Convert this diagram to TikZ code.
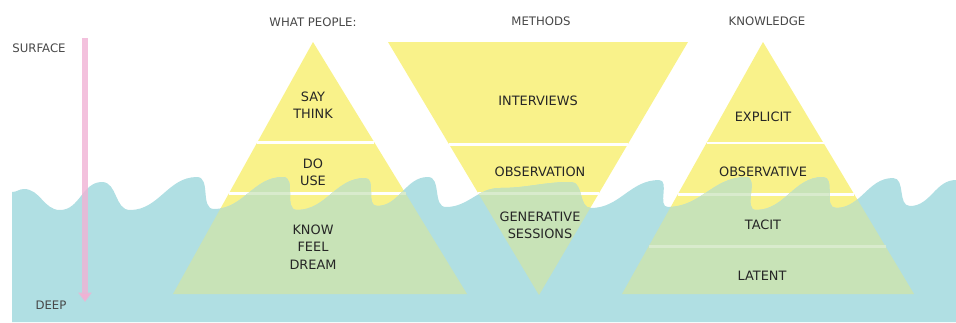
\documentclass[tikz,border=0pt]{standalone}
\usepackage{fontspec}
\setmainfont{DejaVu Sans}
\usepackage{xcolor}
\usepackage{tikz}
\usetikzlibrary{arrows.meta}
\definecolor{sand}{HTML}{F9F28A}
\definecolor{sea}{HTML}{B0DFE3}
\definecolor{reef}{HTML}{C8E3B7}
\definecolor{depth}{HTML}{F0B2D4}
\definecolor{ink}{HTML}{262626}
\tikzstyle{dry} = [fill=sand]
\tikzstyle{wet} = [fill=reef]
\tikzstyle{water} = [fill=sea]
\tikzstyle{gap} = [draw=white, line width=2.5pt]
\tikzstyle{wetgap} = [draw=white!30!reef, line width=2.5pt]
\tikzstyle{heading} = [text=ink!85, font=\fontsize{10}{12}\selectfont]
\tikzstyle{side} = [text=ink!85, font=\fontsize{10}{12}\selectfont]
\tikzstyle{layer} = [text=ink, font=\fontsize{11}{14.7}\selectfont, align=center]
\tikzstyle{arrow} = [line width=5.5pt, draw=depth, draw opacity=0.8, -{Triangle[width=11pt,length=8pt]}]

\begin{document}
\begin{tikzpicture}[x=0.03cm, y=-0.03cm]
\useasboundingbox (0,0) rectangle (956,322);

\path[save path=\seapath, out=0, in=180] (12,322) -- (12,192) to (24,189) to (60,210)
  to (102,182) to (130,210) to (197,177) to (214,209) to (283,177) to (297,210)
  to (365,178) to (377,206) to (428,177) to (446,207) to (500,188) to (571,182)
  to (591,208) to (659,180) to (668,207) to (746,177) to (756,210) to (823,177)
  to (836,208) to (893,178) to (910,206) to (956,180) -- (956,322) -- cycle;

\fill[dry] (313,42) -- (467,294) -- (173,294) -- cycle;
\fill[dry] (388,42) -- (688,42) -- (539,295) -- cycle;
\fill[dry] (763,42) -- (914,294) -- (622,294) -- cycle;

\draw[gap] (257.2,142.5) -- (374.4,142.5);
\draw[gap] (228.8,193.5) -- (405.6,193.5);
\draw[gap] (449.2,144.5) -- (627.6,144.5);
\draw[gap] (478.4,193.5) -- (598.8,193.5);
\draw[gap] (706.5,143) -- (823.5,143);
\draw[gap] (677.7,194.5) -- (854.4,194.5);

\fill[water, use path=\seapath];

\begin{scope}
\path[clip, use path=\seapath];
\fill[wet] (313,42) -- (467,294) -- (173,294) -- cycle;
\fill[wet] (388,42) -- (688,42) -- (539,295) -- cycle;
\fill[wet] (763,42) -- (914,294) -- (622,294) -- cycle;
\draw[wetgap] (228.8,193.5) -- (405.6,193.5);
\draw[wetgap] (478.4,193.5) -- (598.8,193.5);
\draw[wetgap] (677.7,194.5) -- (854.4,194.5);
\draw[wetgap] (648.6,246.5) -- (885.5,246.5);
\end{scope}

\node (people) [heading] at (313,22) {WHAT PEOPLE:};
\node (methods) [heading] at (541,21) {METHODS};
\node (knowledge) [heading] at (767,21) {KNOWLEDGE};

\node (say) [layer] at (313,105.5) {SAY\\THINK};
\node (do) [layer] at (313,172) {DO\\USE};
\node (know) [layer] at (313,247) {KNOW\\FEEL\\DREAM};

\node (interviews) [layer] at (538,101) {INTERVIEWS};
\node (observation) [layer] at (540,172) {OBSERVATION};
\node (generative) [layer] at (540,225.5) {GENERATIVE\\SESSIONS};

\node (explicit) [layer] at (763,117) {EXPLICIT};
\node (observative) [layer] at (763,172) {OBSERVATIVE};
\node (tacit) [layer] at (763,225) {TACIT};
\node (latent) [layer] at (762,276) {LATENT};

\node (surface) [side] at (39,48) {SURFACE};
\node (deep) [side] at (51,305) {DEEP};
\coordinate (surfacetop) at (85,38);
\coordinate (deepend) at (85,302);
\draw [arrow] (surfacetop) -- (deepend);

\end{tikzpicture}
\end{document}
